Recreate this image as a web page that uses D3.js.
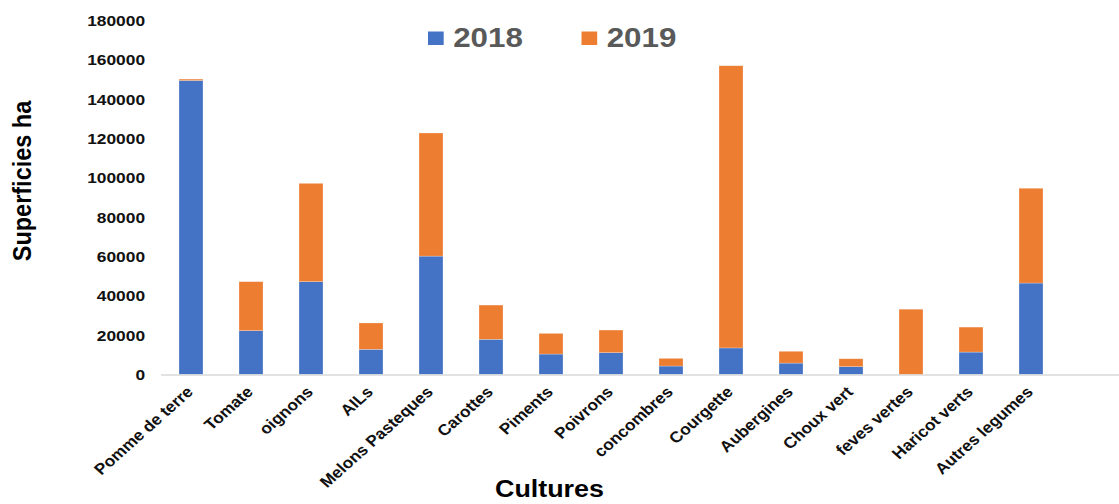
<!DOCTYPE html>
<html>
<head>
<meta charset="utf-8">
<script src="https://cdn.jsdelivr.net/npm/d3@7"></script>
<style>
  html, body { margin: 0; padding: 0; background: #fff; }
  svg { display: block; }
  text { font-family: "Liberation Sans", Arial, sans-serif; }
</style>
</head>
<body>
<svg id="chart"></svg>
<script>
// Superficies (ha) par culture, 2018 et 2019
const cultures = ["Pomme de terre", "Tomate", "oignons", "AILs", "Melons Pasteques", "Carottes",
  "Piments", "Poivrons", "concombres", "Courgette", "Aubergines", "Choux vert",
  "feves vertes", "Haricot verts", "Autres legumes"];
const s2018 = [149500, 22300, 47200, 12800, 60200, 17900, 10400, 11100, 4300, 13500, 5800, 4000, 0, 11400, 46500];
const s2019 = [700, 24900, 50000, 13400, 62600, 17400, 10500, 11500, 3900, 143500, 6000, 4000, 33200, 12700, 48200];
const years = ["2018", "2019"];
const yTicks = [0, 20000, 40000, 60000, 80000, 100000, 120000, 140000, 160000, 180000];

const width = 1119, height = 504;
// the whole chart is drawn a bit wider than its own coordinates
const sx = 1.12, vbWidth = width / sx;

let svg = d3.select("#chart")
    .attr("width", width)
    .attr("height", height)
    .attr("viewBox", "0 0 " + vbWidth + " " + height)
    .attr("preserveAspectRatio", "none");

let data = cultures.map(function(c, i) {
  return {culture: c, "2018": s2018[i], "2019": s2019[i]};
});

let x = d3.scaleBand()
    .domain(cultures)
    .range([143.75, 143.75 + 15 * 60 / sx])
    .paddingInner(0.6)
    .paddingOuter(0.3);

let y = d3.scaleLinear()
    .domain([0, 180000])
    .range([374.5, 20.5]);

let z = d3.scaleOrdinal()
    .domain(years)
    .range(["#4472C4", "#ED7D31"]);

// y axis: labels only
let yAxis = svg.append("g")
    .attr("transform", "translate(129.5,0)")
    .call(d3.axisLeft(y).tickValues(yTicks).tickSize(0).tickPadding(0).tickFormat(d3.format("d")));
yAxis.select(".domain").remove();
yAxis.selectAll("text")
    .attr("fill", "#111")
    .style("font-size", "15.5px")
    .style("font-weight", "bold");

// stacked bars
svg.append("g")
    .selectAll("g")
    .data(d3.stack().keys(years)(data))
    .enter().append("g")
    .attr("fill", function(d) { return z(d.key); })
    .selectAll("rect")
    .data(function(d) { return d; })
    .enter().append("rect")
    .attr("x", function(d) { return x(d.data.culture); })
    .attr("width", x.bandwidth())
    .attr("y", function(d) { return y(d[1]); })
    .attr("height", function(d) { return y(d[0]) - y(d[1]); })
    .attr("stroke", "#fff")
    .attr("stroke-opacity", 0.4)
    .attr("stroke-width", 0.6);

// category axis
svg.append("line")
    .attr("x1", x.range()[0])
    .attr("x2", vbWidth)
    .attr("y1", y(0) + 0.5)
    .attr("y2", y(0) + 0.5)
    .attr("stroke", "#d9d9d9")
    .attr("stroke-width", 1.5);

svg.append("g")
    .selectAll("text")
    .data(cultures)
    .enter().append("text")
    .attr("transform", function(d) {
      return "translate(" + (x(d) + x.bandwidth() / 2 + 3 / sx) + ",393)rotate(-45)";
    })
    .attr("text-anchor", "end")
    .attr("fill", "#111")
    .style("font-size", "15.5px")
    .style("font-weight", "bold")
    .text(function(d) { return d; });

// axis titles
svg.append("text")
    .attr("transform", "translate(" + (31 / sx) + ",181)rotate(-90)")
    .attr("text-anchor", "middle")
    .attr("fill", "#000")
    .style("font-size", "23.5px")
    .style("font-weight", "bold")
    .text("Superficies ha");

svg.append("text")
    .attr("x", 495 / sx)
    .attr("y", 497)
    .attr("fill", "#000")
    .style("font-size", "24px")
    .style("font-weight", "bold")
    .text("Cultures");

// legend
let legend = svg.append("g")
    .selectAll("g")
    .data(years)
    .enter().append("g")
    .attr("transform", function(d, i) { return "translate(" + ((428 + i * 153.5) / sx) + ",0)"; });

legend.append("rect")
    .attr("y", 31.5)
    .attr("width", 14)
    .attr("height", 13.5)
    .attr("fill", z);

legend.append("text")
    .attr("x", 22.5)
    .attr("y", 47)
    .attr("fill", "#595959")
    .style("font-size", "28px")
    .style("font-weight", "bold")
    .text(function(d) { return d; });
</script>
</body>
</html>
